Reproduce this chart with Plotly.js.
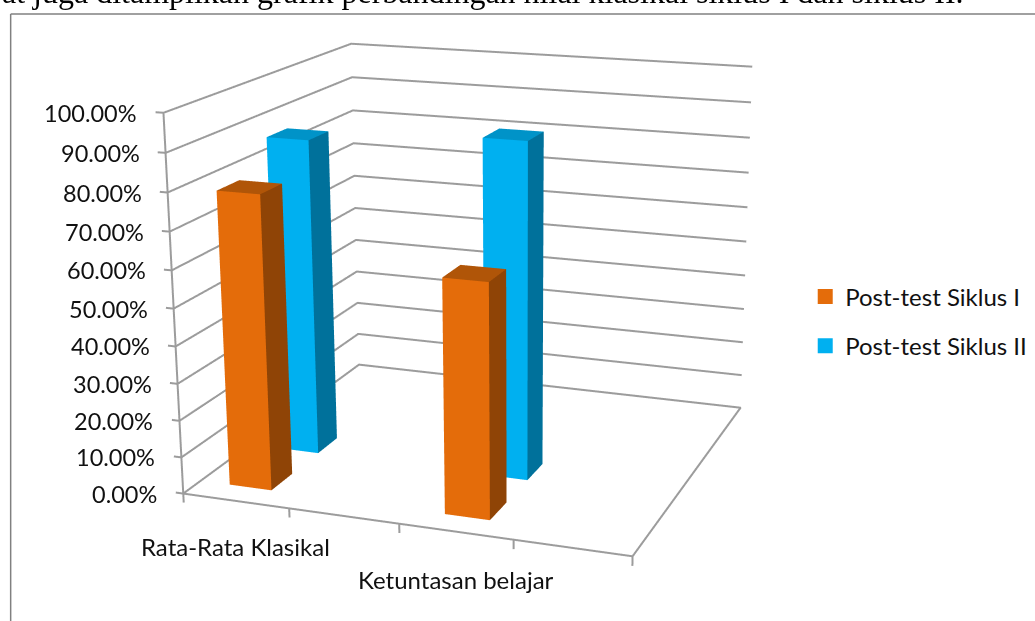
<!DOCTYPE html>
<html><head><meta charset="utf-8">
<script src="https://cdn.plot.ly/plotly-3.0.1.min.js"></script>
<style>html,body{margin:0;padding:0;background:#fff;overflow:hidden}</style></head>
<body><div id="chart" style="width:1035px;height:621px"></div>
<script>
const categories=['Rata-Rata Klasikal','Ketuntasan belajar'];
const seriesNames=['Post-test Siklus I','Post-test Siklus II'];
const siklus1=[79,62];
const siklus2=[87,91];
const ticks=[0,10,20,30,40,50,60,70,80,90,100];
const tickLabels=ticks.map(t=>t.toFixed(2)+'%');
const catCentres=[0.24,1.24];
const rowCentres=[0.28,0.79];
const catTicks=[0,0.5,1,1.5,2];
const labelTicks=[0.5,1.5];

const W=2, D=2;
const barHalfX=0.1, barHalfY=0.11;
const faceCols=[['#E46C0A','#B05508','#8F4406'],['#00B0F0','#0093C8','#00719B']];
function bar(cat,row,val,c){
  const cx=catCentres[cat], cy=rowCentres[row];
  const x0=cx-barHalfX,x1=cx+barHalfX,y0=cy-barHalfY,y1=cy+barHalfY;
  return {type:'mesh3d',showlegend:false,hoverinfo:'skip',flatshading:true,
    lighting:{ambient:1,diffuse:0,specular:0,fresnel:0,roughness:1},
    x:[x0,x1,x1,x0,x0,x1,x1,x0],y:[y0,y0,y1,y1,y0,y0,y1,y1],z:[0,0,0,0,val,val,val,val],
    i:[0,0,4,4,1,1],j:[1,5,5,6,2,6],k:[5,4,6,7,6,5],
    facecolor:[c[0],c[0],c[1],c[1],c[2],c[2]]};
}
const gridCol='#9C9C9C';
function line(xs,ys,zs){return {type:'scatter3d',mode:'lines',showlegend:false,hoverinfo:'skip',x:xs,y:ys,z:zs,line:{color:gridCol,width:4}};}
const traces=[];
ticks.forEach(t=>traces.push(line([-0.036,0,0,W],[0,0,D,D],[t,t,t,t])));
traces.push(line([0,0],[0,0],[0,100]));
traces.push(line([0,W,W,0,0],[0,0,D,D,0],[0,0,0,0,0]));
catTicks.forEach(p=>traces.push(line([p,p],[0,0],[0,-2.5])));
traces.push(bar(1,1,siklus2[1],faceCols[1]));
traces.push(bar(0,1,siklus2[0],faceCols[1]));
traces.push(bar(1,0,siklus1[1],faceCols[0]));
traces.push(bar(0,0,siklus1[0],faceCols[0]));
seriesNames.forEach((n,i)=>traces.push({type:'scatter',x:[null],y:[null],name:n,legendgroup:'g'+i,mode:'markers',marker:{symbol:'square',size:15,color:faceCols[i][0]},showlegend:true}));

const ann=[];
ticks.forEach((t,i)=>ann.push({x:0,y:0,z:t,text:tickLabels[i],showarrow:false,xanchor:'right',xshift:-24,font:{family:'Lato',size:23.5,color:'#111'}}));
categories.forEach((c,i)=>ann.push({x:labelTicks[i],y:0,z:0,text:c,showarrow:false,xshift:i?-58:-54,yshift:i?-40:-38,font:{family:'Lato',size:24,color:'#111'}}));
const C={x:0.0925,y:0.032,z:-0.080};
const layout={width:1035,height:621,margin:{l:0,r:0,t:0,b:0},paper_bgcolor:'#fff',
 xaxis:{visible:false},yaxis:{visible:false},
 legend:{x:0.778,y:0.558,yanchor:'top',font:{family:'Lato',size:24,color:'#111'},itemclick:false,tracegroupgap:15,itemwidth:30},
 scene:{domain:{x:[0,1],y:[0,1]},
  aspectmode:'manual',aspectratio:{x:1.05,y:0.966,z:0.872},
  xaxis:{visible:false,range:[-0.05,2.02]},yaxis:{visible:false,range:[-0.02,2.02]},zaxis:{visible:false,range:[-3,101]},
  camera:{center:C,eye:{x:C.x+1.421,y:C.y-4.053,z:C.z+1.288},up:{x:-0.005,y:-0.0016,z:1}},
  annotations:ann},
 shapes:[{type:'line',xref:'paper',yref:'paper',x0:0.0103,x1:0.0103,y0:0,y1:0.9775,line:{color:'#808080',width:1.5}},
  {type:'line',xref:'paper',yref:'paper',x0:0.0103,x1:1,y0:0.9775,y1:0.9775,line:{color:'#808080',width:1.5}}],
 annotations:[{xref:'paper',yref:'paper',x:0,y:1,xanchor:'left',yanchor:'top',yshift:28,showarrow:false,text:'at juga ditampilkan grafik perbandingan nilai klasikal siklus I dan siklus II.',font:{family:'Liberation Serif',size:32,color:'#000'}}]
};
const gd=document.getElementById('chart');
Plotly.newPlot(gd,traces,layout,{displayModeBar:false}).then(()=>{
  const s=gd._fullLayout.scene._scene;
  if(s&&s.glplot){s.glplot.fovy=2*Math.atan(621/(2*1984));s.glplot.redraw();}
});
</script></body></html>
